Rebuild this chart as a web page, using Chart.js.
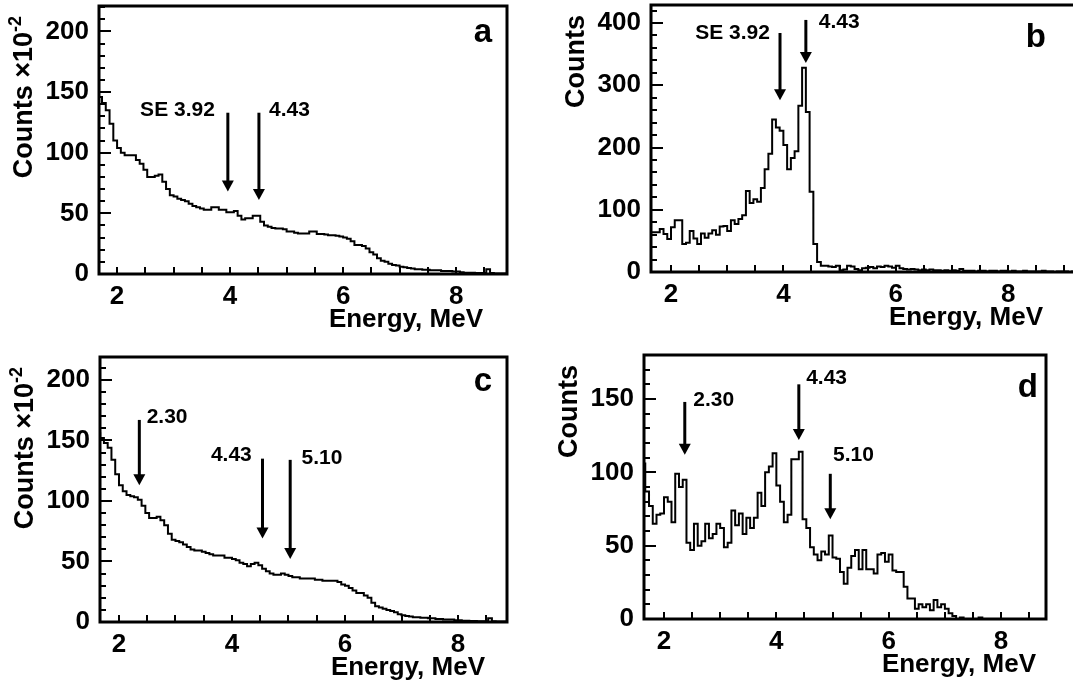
<!DOCTYPE html>
<html>
<head>
<meta charset="utf-8">
<script src="https://cdn.jsdelivr.net/npm/chart.js@4.4.0/dist/chart.umd.min.js"></script>
<style>
  html, body { margin: 0; padding: 0; background: #fff; overflow: hidden; }
  body { width: 1073px; height: 684px; position: relative; }
  canvas { position: absolute; }
</style>
</head>
<body>
<canvas id="panel-a" width="536" height="342" style="left:0;top:0"></canvas>
<canvas id="panel-b" width="540" height="342" style="left:536px;top:0"></canvas>
<canvas id="panel-c" width="536" height="342" style="left:0;top:342px"></canvas>
<canvas id="panel-d" width="537" height="342" style="left:536px;top:342px"></canvas>
<script>
// binning shared by the four spectra, MeV
var binStart = 1.6;
var binWidth = 1 / 15;

// a: counts x 10^-2, one row = 1 MeV (15 bins)
var countsA = [
  151, 150, 146, 141, 135, 124, 110, 104, 100, 98, 98, 98, 94, 91, 86,
  80, 80, 81, 82, 76, 70, 65, 64, 62, 61, 60, 58, 56, 55, 54,
  53, 53, 55, 55, 53, 53, 51, 51, 52, 48, 45, 46, 46, 48, 48,
  43, 40, 39, 38, 37.5, 37.5, 37, 35, 35, 34, 33.5, 33.5, 33.5, 35, 35,
  33, 33, 32.5, 32, 32, 31.5, 31, 30, 29, 27, 24, 24, 23, 21, 18,
  16, 13, 11, 10, 8.5, 7.5, 7, 6, 5.5, 5, 4.5, 4, 4, 3.5, 3.5,
  3, 3, 3, 2.5, 2.5, 2.5, 2, 2, 1.5, 1, 1, 1, 0.8, 0.8, 0.8,
  4, 0.8, 0.5, 0.5, 0.5
];
// b: counts
var countsB = [
  64, 64, 64, 64, 69, 61, 53, 72, 83, 83, 45, 47, 66, 54, 45,
  62, 55, 62, 67, 60, 73, 74, 66, 83, 77, 85, 91, 130, 111, 117,
  113, 135, 165, 190, 245, 232, 227, 204, 165, 183, 194, 267, 328, 257, 129,
  45, 16, 10, 10, 9, 8, 10, 3, 4, 10, 9, 5, 3, 6, 7,
  8, 6, 9, 8, 10, 9, 7, 10, 6, 5, 4, 5, 4, 3, 4,
  3, 4, 3, 3, 2, 3, 2, 3, 2, 5, 2, 2, 2, 1, 2,
  2, 1, 2, 2, 1, 2, 2, 1, 2, 1, 1, 2, 1, 1, 0,
  1, 2, 1, 1, 0, 1, 1, 1, 0, 1
];
// c: counts x 10^-2
var countsC = [
  157, 156, 152, 148, 144, 134, 122, 113, 108, 105, 104, 103, 101, 96, 90,
  86, 86, 87, 84, 80, 73, 68, 67, 66, 64, 62, 60, 59, 59, 58,
  57, 56, 55, 55, 55, 53, 53, 52, 51, 49, 48, 46, 48, 49, 47,
  44, 42, 40, 39, 39, 40, 39, 38, 37, 37, 36, 36, 36, 36, 35,
  35, 34, 34, 34, 34, 33, 31, 30, 28, 26, 24, 24, 22, 20, 16,
  13, 12, 11, 10, 9, 8, 6.5, 5.5, 5, 4.5, 4, 4, 3.5, 3.5, 3,
  3, 2.5, 2.5, 2, 2, 2, 1.5, 1.5, 1, 1, 0.8, 0.8, 0.6, 0.6, 0.6,
  3, 0.6, 0.4, 0.4, 0.4
];
// d: counts
var countsD = [
  77, 106, 87, 77, 65, 71, 72, 83, 80, 66, 99, 90, 95, 52, 47,
  65, 50, 53, 65, 55, 58, 65, 62, 49, 52, 74, 64, 72, 58, 69,
  62, 69, 86, 77, 100, 104, 113, 91, 80, 66, 71, 109, 109, 114, 68,
  62, 49, 44, 40, 46, 44, 57, 42, 41, 32, 24, 35, 43, 47, 34,
  47, 34, 34, 31, 44, 45, 39, 44, 33, 32, 32, 22, 14, 14, 7,
  10, 8, 10, 6, 13, 8, 10, 7, 4, 2, 0, 1, 0, 0, 0,
  0, 1, 0, 0, 0, 0, 0, 0, 0, 0, 0, 0, 0, 0, 0,
  0, 0, 0, 0
];

// marked lines: arrow energy, arrow top, arrow tip, label anchor
var markersA = [
  { label: 'SE 3.92', e: 3.96, top: 133, tip: 68, textE: 3.73, textY: 135, align: 'right' },
  { label: '4.43', e: 4.51, top: 133, tip: 61, textE: 4.69, textY: 135, align: 'left' }
];
var markersB = [
  { label: 'SE 3.92', e: 3.94, top: 384, tip: 276, textE: 3.76, textY: 384, align: 'right' },
  { label: '4.43', e: 4.40, top: 405, tip: 336, textE: 4.63, textY: 402, align: 'left' }
];
var markersC = [
  { label: '2.30', e: 2.36, top: 167, tip: 113, textE: 2.49, textY: 169, align: 'left' },
  { label: '4.43', e: 4.54, top: 135, tip: 69, textE: 4.35, textY: 138, align: 'right' },
  { label: '5.10', e: 5.03, top: 134, tip: 52, textE: 5.23, textY: 135, align: 'left' }
];
var markersD = [
  { label: '2.30', e: 2.37, top: 148, tip: 112, textE: 2.52, textY: 149, align: 'left' },
  { label: '4.43', e: 4.40, top: 160, tip: 122, textE: 4.53, textY: 164, align: 'left' },
  { label: '5.10', e: 4.96, top: 99, tip: 68, textE: 5.01, textY: 112, align: 'left' }
];

var FONT = '"Liberation Sans", Arial, Helvetica, sans-serif';

function histPoints(counts) {
  var pts = [];
  for (var i = 0; i < counts.length; i++) {
    pts.push({ x: binStart + i * binWidth, y: counts[i] });
  }
  pts.push({ x: binStart + counts.length * binWidth, y: counts[counts.length - 1] });
  return pts;
}

function makePanel(id, counts, markers, p) {
  // ROOT-like frame, inward ticks, arrows and titles
  var rootStyle = {
    id: 'rootStyle',
    afterDraw: function (chart) {
      var ctx = chart.ctx, area = chart.chartArea;
      var xs = chart.scales.x, ys = chart.scales.y;
      ctx.save();
      ctx.strokeStyle = '#000';
      ctx.fillStyle = '#000';

      ctx.lineWidth = 2;
      for (var e = Math.ceil(xs.min * 2) / 2; e <= xs.max; e += 0.5) {
        var px = Math.round(xs.getPixelForValue(e));
        ctx.beginPath();
        ctx.moveTo(px, area.bottom);
        ctx.lineTo(px, area.bottom - 7);
        ctx.stroke();
      }
      for (var v = 0; v <= ys.max; v += p.yMinor) {
        var py = Math.round(ys.getPixelForValue(v));
        var len = (v % p.yStep === 0) ? 12 : 6;
        ctx.beginPath();
        ctx.moveTo(area.left, py);
        ctx.lineTo(area.left + len, py);
        ctx.stroke();
      }

      ctx.lineWidth = 3;
      ctx.strokeRect(area.left, area.top, area.right - area.left, area.bottom - area.top);

      markers.forEach(function (m) {
        var ax = xs.getPixelForValue(m.e);
        var y0 = ys.getPixelForValue(m.top);
        var y1 = ys.getPixelForValue(m.tip);
        ctx.lineWidth = 3;
        ctx.beginPath();
        ctx.moveTo(ax, y0);
        ctx.lineTo(ax, y1 - 8);
        ctx.stroke();
        ctx.beginPath();
        ctx.moveTo(ax - 6, y1 - 11);
        ctx.lineTo(ax + 6, y1 - 11);
        ctx.lineTo(ax, y1);
        ctx.closePath();
        ctx.fill();
        ctx.font = 'bold 21px ' + FONT;
        ctx.textAlign = m.align;
        ctx.textBaseline = 'middle';
        ctx.fillText(m.label, xs.getPixelForValue(m.textE), ys.getPixelForValue(m.textY));
      });

      // panel letter
      ctx.font = 'bold 33px ' + FONT;
      ctx.textAlign = 'right';
      ctx.textBaseline = 'alphabetic';
      ctx.fillText(p.letter, area.right - p.letterInset, area.top + p.letterDrop);

      // x title
      ctx.font = 'bold 26px ' + FONT;
      ctx.fillText('Energy, MeV', area.right - p.xTitleInset, area.bottom + 53);

      // y title, rotated, ends near the top of the frame
      ctx.translate(area.left - 74, area.top + 10);
      ctx.rotate(-Math.PI / 2);
      ctx.textAlign = 'right';
      ctx.textBaseline = 'middle';
      var supW = 0;
      if (p.yPower) {
        ctx.font = 'bold 18px ' + FONT;
        ctx.fillText(p.yPower, 0, -9);
        supW = ctx.measureText(p.yPower).width;
      }
      ctx.font = 'bold 27px ' + FONT;
      ctx.fillText(p.yTitle, -supW, 0);
      ctx.restore();
    }
  };

  var tickFont = { family: FONT, size: 26, weight: 'bold' };

  return new Chart(document.getElementById(id), {
    type: 'line',
    data: {
      datasets: [{
        data: histPoints(counts),
        stepped: 'after',
        borderColor: '#000',
        borderWidth: 2,
        pointRadius: 0,
        fill: false
      }]
    },
    options: {
      responsive: false,
      animation: false,
      events: [],
      layout: { padding: { top: p.padTop, right: p.padRight, left: 0, bottom: 0 } },
      plugins: { legend: { display: false }, tooltip: { enabled: false } },
      scales: {
        x: {
          type: 'linear',
          min: p.xMin,
          max: p.xMax,
          grid: { display: false },
          border: { display: false },
          ticks: { stepSize: 2, includeBounds: false, autoSkip: false, maxRotation: 0,
                   color: '#000', font: tickFont, padding: -1 },
          afterFit: function (s) {
            s.height = p.xAxisHeight;
            s.paddingLeft = 0;
            s.paddingRight = 0;
          }
        },
        y: {
          min: 0,
          max: p.yMax,
          grid: { display: false },
          border: { display: false },
          ticks: { stepSize: p.yStep, includeBounds: false, color: '#000', font: tickFont, padding: 2 },
          afterFit: function (s) {
            s.width = p.yAxisWidth;
            s.paddingTop = 0;
            s.paddingBottom = 0;
          }
        }
      }
    },
    plugins: [rootStyle]
  });
}

makePanel('panel-a', countsA, markersA, {
  xMin: 1.68, xMax: 8.9, yMax: 221, yStep: 50, yMinor: 10,
  padTop: 6, padRight: 29, yAxisWidth: 99, xAxisHeight: 68,
  letter: 'a', letterInset: 15, letterDrop: 36, xTitleInset: 24,
  yTitle: 'Counts \u00d710', yPower: '-2'
});
makePanel('panel-b', countsB, markersB, {
  xMin: 1.644, xMax: 9.19, yMax: 429, yStep: 100, yMinor: 20,
  padTop: 5, padRight: 1, yAxisWidth: 115, xAxisHeight: 70,
  letter: 'b', letterInset: 29, letterDrop: 42, xTitleInset: 32,
  yTitle: 'Counts', yPower: ''
});
makePanel('panel-c', countsC, markersC, {
  xMin: 1.664, xMax: 8.867, yMax: 219, yStep: 50, yMinor: 10,
  padTop: 15, padRight: 29, yAxisWidth: 100, xAxisHeight: 62,
  letter: 'c', letterInset: 15, letterDrop: 34, xTitleInset: 22,
  yTitle: 'Counts \u00d710', yPower: '-2'
});
makePanel('panel-d', countsD, markersD, {
  xMin: 1.644, xMax: 8.80, yMax: 180, yStep: 50, yMinor: 10,
  padTop: 13, padRight: 27, yAxisWidth: 108, xAxisHeight: 65,
  letter: 'd', letterInset: 8, letterDrop: 42, xTitleInset: 10,
  yTitle: 'Counts', yPower: ''
});
</script>
</body>
</html>
